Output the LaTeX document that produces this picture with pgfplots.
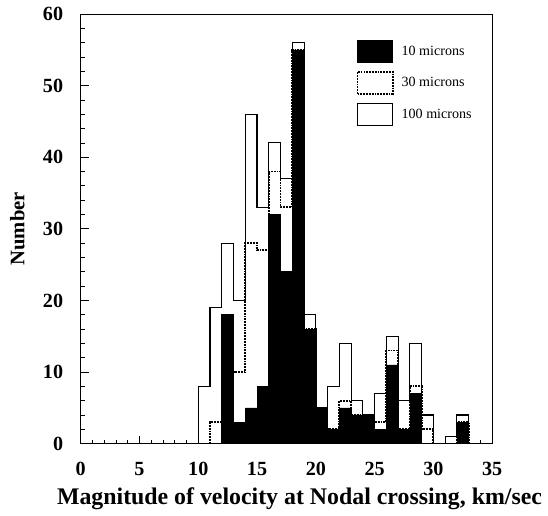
\documentclass[border=0pt]{standalone}
\usepackage{pgfplots}
\pgfplotsset{compat=1.18}
\usepackage{pgfplotstable}
\usepackage{fontspec}
\setmainfont{Liberation Serif}

\pgfplotstableread{
x y
10 8
11 19
12 28
13 20
14 46
15 33
16 42
17 37
18 56
19 18
20 5
21 8
22 14
23 6
24 4
25 7
26 15
27 6
28 14
29 4
30 0
31 1
32 4
33 4
}\hundred

\pgfplotstableread{
x y
11 0
11 3
12 18
13 10
14 28
15 27
16 38
17 33
18 55
19 16
20 5
21 2
22 6
23 4
24 4
25 3
26 13
27 2
28 8
29 2
30 0
31 0
32 3
33 3
33 0
}\thirty

\pgfplotstableread{
x y
12 18
13 3
14 5
15 8
16 32
17 24
18 55
19 16
20 5
21 2
22 5
23 4
24 4
25 2
26 11
27 2
28 7
29 0
30 0
31 0
32 3
33 3
}\ten

\begin{document}
\begin{tikzpicture}
\begin{axis}[
  width=409pt, height=427pt, scale only axis,
  xmin=0, xmax=35, ymin=0, ymax=60,
  xtick={0,5,...,35}, ytick={0,10,...,60},
  minor x tick num=4, minor y tick num=4,
  xtick pos=bottom, ytick pos=left,
  tick align=inside,
  major tick length=8pt, minor tick length=4pt,
  axis line style={line width=0.9pt},
  tick style={line width=0.8pt, black},
  /pgf/number format/assume math mode=true,
  tick label style={font=\fontsize{20}{22}\selectfont\bfseries},
  xticklabel style={yshift=-15pt},
  yticklabel style={xshift=-14pt},
  xlabel={Magnitude of velocity at Nodal crossing, km/sec},
  ylabel={Number},
  xlabel style={font=\fontsize{23.7}{26}\selectfont\bfseries,
    at={(axis description cs:0.5,0)}, anchor=center, inner sep=6pt,
    yshift=-55pt, xshift=13pt},
  ylabel style={font=\fontsize{20.5}{22}\selectfont\bfseries,
    at={(axis description cs:0,0.5)}, anchor=center, inner sep=10pt,
    yshift=63pt},
  legend style={at={(0.67,0.94)}, anchor=north west, draw=none, fill=none,
    font=\fontsize{14}{16}\selectfont, row sep=8pt, inner sep=0pt,
    /tikz/every odd column/.append style={column sep=6pt}},
  legend cell align=left,
  reverse legend,
  legend image code/.code={\draw[#1] (0pt,-11pt) rectangle (35pt,11pt);},
  extra description/.code={\path (axis description cs:0,1) ++(0pt,14pt);},
]
\addplot[const plot, draw=black, fill=white, line width=1.1pt] table {\hundred} \closedcycle;
\addlegendentry{100 microns}
\addplot[const plot, draw=black, densely dotted, line width=1.8pt] table {\thirty};
\addlegendentry{30 microns}
\addplot[const plot, draw=black, fill=black, line width=0.6pt] table {\ten} \closedcycle;
\addlegendentry{10 microns}
\end{axis}
\end{tikzpicture}
\end{document}
